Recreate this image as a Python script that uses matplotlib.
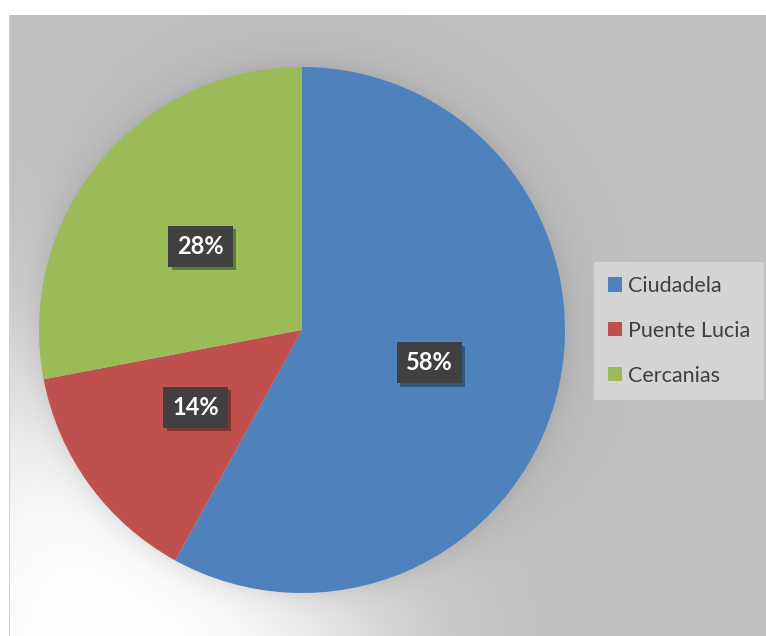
import matplotlib
matplotlib.use('Agg')
import matplotlib.pyplot as plt
import matplotlib.patheffects as pe
import numpy as np

plt.rcParams['font.family'] = ['Lato', 'DejaVu Sans']

CATEGORIES = ['Ciudadela', 'Puente Lucia', 'Cercanias']
SHARES = [58, 14, 28]
COLORS = ['#4f81bd', '#c0504d', '#9bbb59']

W, H = 766, 636
CX, CY, R = 302, 330, 263   # pie centre / radius in pixel coords (y down)


def background():
  """Grey plot area with a soft light spot bottom-left and a shadow round the pie."""
  yy, xx = np.mgrid[0:H, 0:W].astype(float)
  base = 0.75
  # soft light spot anchored near the bottom-left
  q = ((xx - 110) / 280.0) ** 2 + ((yy - 645) / 330.0) ** 2
  light = np.exp(-q ** 1.5)
  val = base + (1 - base) * light
  # outer shadow of the pie
  d = np.sqrt((xx - CX) ** 2 + (yy - CY) ** 2) - R
  val *= 1 - 0.09 * np.exp(-np.clip(d, 0, None) / 16.0)
  img = np.dstack([val] * 3)
  img[:, :9] = 1.0
  img[:15, :] = 1.0
  img[15:, 9] = 0.82
  return img


fig = plt.figure(figsize=(W / 100, H / 100), dpi=100)
bg_ax = fig.add_axes([0, 0, 1, 1])
bg_ax.imshow(background(), aspect='auto', interpolation='bilinear')
bg_ax.axis('off')

ax = fig.add_axes([(CX - R) / W, (H - CY - R) / H, 2 * R / W, 2 * R / H])
wedges, _, autotexts = ax.pie(
    SHARES,
    colors=COLORS,
    startangle=90,
    counterclock=False,
    autopct='%1.0f%%',
    pctdistance=0.5,
    radius=1.0,
    wedgeprops=dict(linewidth=0),
)
ax.set_xlim(-1, 1)
ax.set_ylim(-1, 1)
ax.set_aspect('auto')
ax.axis('off')

for t in autotexts:
  t.set_color('white')
  t.set_fontsize(17)
  t.set_fontweight('bold')
  t.set_bbox(dict(boxstyle='square,pad=0.38', fc='#404040', ec='none'))
  t.get_bbox_patch().set_path_effects([
      pe.SimplePatchShadow(offset=(2.5, -2.5), shadow_rgbFace='black', alpha=0.35),
      pe.Normal(),
  ])

leg = fig.legend(
    wedges, CATEGORIES,
    loc='upper left',
    bbox_to_anchor=(594 / W, 1 - 262 / H),
    borderaxespad=0,
    frameon=True,
    fancybox=False,
    facecolor='#d4d4d4',
    edgecolor='none',
    framealpha=1,
    fontsize=15.5,
    handlelength=0.65,
    handleheight=0.65,
    handletextpad=0.28,
    labelspacing=1.15,
    borderpad=0.65,
)
for txt in leg.get_texts():
  txt.set_color('#404040')

fig.savefig('out.png', dpi=100)
